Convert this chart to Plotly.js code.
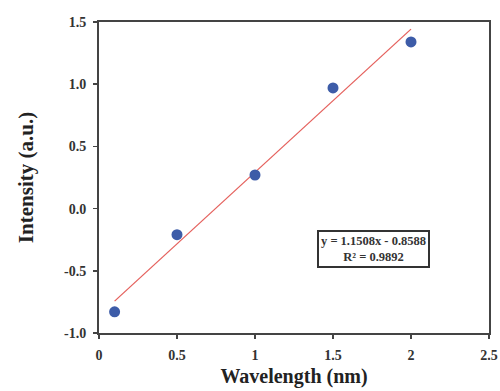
<!DOCTYPE html>
<html><head><meta charset="utf-8">
<script src="https://cdn.plot.ly/plotly-3.0.1.min.js"></script>
<style>html,body{margin:0;padding:0;background:#fff}</style>
</head><body>
<div id="chart" style="width:500px;height:391px"></div>
<script>
const wavelength = [0.1, 0.5, 1.0, 1.5, 2.0];
const intensity = [-0.83, -0.21, 0.27, 0.97, 1.34];
const fitSlope = 1.1508;
const fitIntercept = -0.8588;
const fitX = [0.1, 2.0];
const fitY = fitX.map(x => fitSlope * x + fitIntercept);
const xTicks = [0, 0.5, 1, 1.5, 2, 2.5];
const xTickText = ['0', '0.5', '1', '1.5', '2', '2.5'];
const yTicks = [-1.0, -0.5, 0.0, 0.5, 1.0, 1.5];
const yTickText = ['-1.0', '-0.5', '0.0', '0.5', '1.0', '1.5'];

const fam = 'Liberation Serif, Times New Roman, serif';
const data = [
  {x: fitX, y: fitY, mode: 'lines', line: {color: '#e5605c', width: 1.3}, hoverinfo: 'skip'},
  {x: wavelength, y: intensity, mode: 'markers',
   marker: {color: '#3d5ca8', size: 11, line: {width: 0}}}
];
const tickfont = {family: fam, size: 14, weight: 'bold', color: '#333'};
const layout = {
  width: 500, height: 391,
  margin: {l: 99, r: 11, t: 22, b: 58},
  showlegend: false,
  paper_bgcolor: '#fff', plot_bgcolor: '#fff',
  font: {family: fam, color: '#333'},
  xaxis: {range: [0, 2.5], tickvals: xTicks, ticktext: xTickText,
    showgrid: false, zeroline: false, showline: true, mirror: true,
    linecolor: '#444', linewidth: 2, ticks: 'outside', ticklen: 4, tickwidth: 1.5, tickcolor: '#444',
    tickfont: tickfont, ticklabelstandoff: 4,
    title: {text: '<b>Wavelength (nm)</b>', font: {family: fam, size: 20, color: '#222'}, standoff: 7}},
  yaxis: {range: [-1.0, 1.5], tickvals: yTicks, ticktext: yTickText,
    showgrid: false, zeroline: false, showline: true, mirror: true,
    linecolor: '#444', linewidth: 2, ticks: 'outside', ticklen: 4, tickwidth: 1.5, tickcolor: '#444',
    tickfont: tickfont, ticklabelstandoff: 4,
    title: {text: '<b>Intensity (a.u.)</b>', font: {family: fam, size: 21, color: '#222'}, standoff: 25}},
  annotations: [{
    x: 1.758, y: -0.325, xref: 'x', yref: 'y', showarrow: false,
    text: '<b>y = 1.1508x - 0.8588<br>R² = 0.9892</b>',
    font: {family: fam, size: 12.5, color: '#333'},
    bordercolor: '#333', borderwidth: 2, borderpad: 2, bgcolor: '#fff', align: 'center'
  }]
};
Plotly.newPlot('chart', data, layout, {displayModeBar: false, staticPlot: true});
</script>
</body></html>
